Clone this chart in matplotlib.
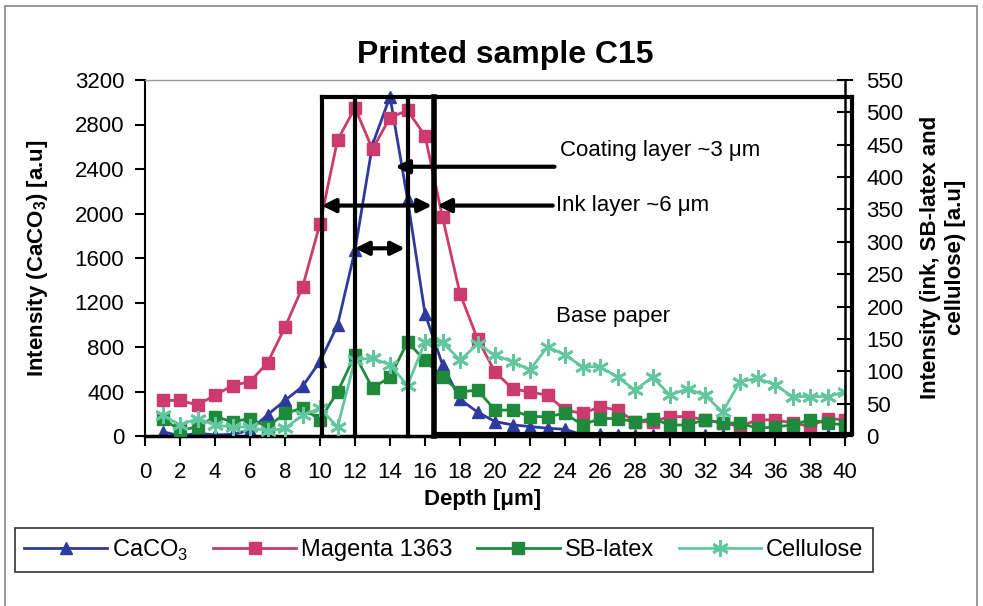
import matplotlib
matplotlib.use("Agg")
import matplotlib.pyplot as plt
from matplotlib.patches import Rectangle

plt.rcParams["font.family"] = ["Liberation Sans", "DejaVu Sans"]
plt.rcParams["mathtext.fontset"] = "custom"
plt.rcParams["mathtext.rm"] = "Liberation Sans"
plt.rcParams["mathtext.bf"] = "Liberation Sans:bold"

# depth of each measurement [um]
depth = [1, 2, 3, 4, 5, 6, 7, 8, 9, 10, 11, 12, 13, 14, 15, 16, 17, 18, 19, 20,
         21, 22, 23, 24, 25, 26, 27, 28, 29, 30, 31, 32, 33, 34, 35, 36, 37, 38, 39, 40]

# left axis
caco3 = [40, 0, 25, 10, 15, 50, 190, 320, 445, 670, 995, 1670, 2620, 3050, 2130, 1100, 640, 330, 215, 130,
         100, 85, 70, 60, 10, 15, 10, 5, 10, 15, 10, 5, 10, 15, 10, 5, 10, 15, 10, 5]

# right axis
magenta = [55, 55, 48, 63, 78, 84, 113, 168, 230, 328, 457, 507, 443, 492, 503, 464, 338, 220, 150, 99,
           73, 68, 63, 40, 35, 45, 40, 22, 22, 30, 30, 25, 20, 15, 25, 25, 20, 15, 27, 25]
sb_latex = [27, 9, 14, 30, 22, 27, 14, 35, 43, 25, 68, 125, 74, 91, 145, 117, 91, 68, 71, 40,
            40, 30, 30, 35, 17, 27, 27, 22, 27, 17, 17, 25, 20, 20, 12, 14, 17, 25, 20, 17]
cellulose = [32, 17, 27, 17, 14, 14, 7, 12, 32, 43, 14, 118, 120, 110, 78, 145, 145, 117, 142, 125,
             115, 102, 138, 125, 107, 107, 91, 71, 91, 63, 73, 63, 37, 84, 89, 79, 61, 61, 61, 68]

depth_ticks = [0, 2, 4, 6, 8, 10, 12, 14, 16, 18, 20, 22, 24, 26, 28, 30, 32, 34, 36, 38, 40]
left_ticks = [0, 400, 800, 1200, 1600, 2000, 2400, 2800, 3200]
right_ticks = [0, 50, 100, 150, 200, 250, 300, 350, 400, 450, 500, 550]

# layer boundaries [um] and box height (right axis units)
ink_start, coating_start, coating_end, ink_end, base_end = 10.1, 12.0, 15.0, 16.5, 40.4
box_top = 524

W, H = 983, 606
fig = plt.figure(figsize=(W / 100, H / 100), dpi=100)
ax = fig.add_axes([145 / W, 1 - 436 / H, 700 / W, 356 / H])
ax2 = ax.twinx()

blue = "#2D3B9E"
pink = "#CC3A6E"
green = "#1F8A3C"
teal = "#62C79E"

l1, = ax.plot(depth, caco3, color=blue, lw=2, marker="^", ms=9, label="CaCO$_3$")
l2, = ax2.plot(depth, magenta, color=pink, lw=2, marker="s", ms=8, label="Magenta 1363")
l3, = ax2.plot(depth, sb_latex, color=green, lw=2, marker="s", ms=8, label="SB-latex")
l4, = ax2.plot(depth, cellulose, color=teal, lw=2, marker=(6, 2, 0), ms=12, mew=2, label="Cellulose")

ax.set_xlim(0, 40)
ax.set_ylim(0, 3200)
ax2.set_ylim(0, 550)
ax.set_xticks(depth_ticks)
ax.set_yticks(left_ticks)
ax2.set_yticks(right_ticks)

ax.tick_params(axis="x", direction="out", length=7, width=1.5, pad=12, labelsize=16)
ax.tick_params(axis="y", direction="out", length=7, width=1.5, pad=8, labelsize=16)
ax2.tick_params(axis="y", direction="inout", length=11, width=1.5, pad=10, labelsize=16)

ax.spines["top"].set_color("#999999")
ax.spines["top"].set_linewidth(1)
ax.spines["right"].set_visible(False)
ax.spines["left"].set_linewidth(1.5)
ax.spines["bottom"].set_linewidth(2.5)
for s in ["top", "left", "bottom"]:
    ax2.spines[s].set_visible(False)
ax2.spines["right"].set_linewidth(1.8)

# layer boxes
kw = dict(color="k", lw=3, clip_on=False, zorder=10)
for x in [ink_start, coating_start, coating_end]:
    ax2.plot([x, x], [0, box_top], **kw)
ax2.plot([ink_end, ink_end], [0, box_top], color="k", lw=4, clip_on=False, zorder=10)
ax2.plot([base_end, base_end], [3, box_top], **kw)
ax2.plot([ink_start, base_end], [box_top, box_top], **kw)
ax2.plot([ink_end, base_end], [3, 3], **kw)

# arrows
arr = dict(color="k", lw=3, shrinkA=0, shrinkB=0, mutation_scale=20)
ax2.annotate("", xy=(14.3, 416), xytext=(23.4, 416), arrowprops=dict(arrowstyle="-|>", **arr), zorder=11)
ax2.annotate("", xy=(ink_start, 356), xytext=(16.4, 356), arrowprops=dict(arrowstyle="<|-|>", **arr), zorder=11)
ax2.annotate("", xy=(16.7, 356), xytext=(23.3, 356), arrowprops=dict(arrowstyle="-|>", **arr), zorder=11)
ax2.annotate("", xy=(coating_start, 290), xytext=(14.85, 290), arrowprops=dict(arrowstyle="<|-|>", **arr), zorder=11)

ax2.text(23.7, 441, "Coating layer ~3 μm", fontsize=16, va="center")
ax2.text(23.5, 356, "Ink layer ~6 μm", fontsize=16, va="center")
ax2.text(23.5, 185, "Base paper", fontsize=16, va="center")

fig.text(505 / W, 1 - 55 / H, "Printed sample C15", fontsize=23, fontweight="bold", ha="center", va="center")
fig.text(483 / W, 1 - 500 / H, "Depth [μm]", fontsize=16, fontweight="bold", ha="center", va="center")
fig.text(38 / W, 1 - 258 / H, r"Intensity (CaCO$_\mathbf{3}$) [a.u]", fontsize=16, fontweight="bold",
         rotation=90, ha="center", va="center")
fig.text(943 / W, 1 - 257 / H, "Intensity (ink, SB-latex and\ncellulose) [a.u]", fontsize=16,
         fontweight="bold", rotation=90, ha="center", va="center", multialignment="center", linespacing=1.3)

leg = fig.legend([l1, l2, l3, l4], [l.get_label() for l in [l1, l2, l3, l4]],
                 loc="center", bbox_to_anchor=(15 / W, 1 - 573 / H, 858 / W, 46 / H), mode="expand",
                 ncol=4, fontsize=17, fancybox=False, edgecolor="k", handlelength=3.5,
                 handletextpad=0.2, borderaxespad=0)
leg.get_frame().set_linewidth(1.2)

fig.add_artist(Rectangle((0.005, -0.01), 0.989, 1.0, transform=fig.transFigure,
                         fill=False, edgecolor="#888888", lw=1.2))

fig.savefig("out.png", dpi=100)
